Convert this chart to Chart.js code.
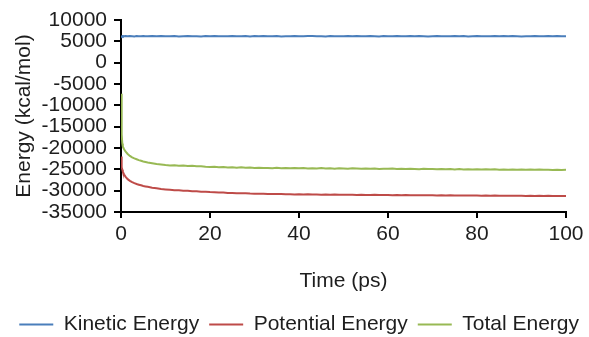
<!DOCTYPE html>
<html><head><meta charset="utf-8">
<script src="https://cdn.jsdelivr.net/npm/chart.js@4.4.1/dist/chart.umd.min.js"></script>
<style>html,body{margin:0;padding:0;background:#fff}</style>
</head><body>
<canvas id="c" width="589" height="337" style="display:block;width:589px;height:337px"></canvas>
<script>
const timePs = [0,0.1,0.2,0.3,0.4,0.5,0.7,1,1.5,2,2.5,3,3.5,4,4.5,5,5.5,6,7,8,9,10,
 11,12,13,14,15,16,17,18,19,20,21,22,23,24,25,26,27,28,29,30,
 31,32,33,34,35,36,37,38,39,40,41,42,43,44,45,46,47,48,49,50,
 51,52,53,54,55,56,57,58,59,60,61,62,63,64,65,66,67,68,69,70,
 71,72,73,74,75,76,77,78,79,80,81,82,83,84,85,86,87,88,89,90,
 91,92,93,94,95,96,97,98,99,100];

const kineticEnergy = [6100,6250,6180,6220,6150,6240,6190,6260,6170,6230,6200,6150,6240,6210,6180,6260,6200,6170,6230,6190,6250,6210,
 6180,6240,6160,6220,6270,6190,6210,6150,6230,6200,
 6260,6180,6220,6170,6240,6210,6190,6250,6160,6230,
 6200,6270,6180,6210,6240,6160,6220,6190,6250,6200,
 6170,6230,6260,6180,6210,6150,6240,6200,6220,6190,
 6250,6170,6230,6210,6180,6260,6200,6160,6240,6220,
 6190,6250,6180,6210,6230,6170,6260,6200,6150,6220,
 6240,6190,6210,6180,6250,6200,6230,6160,6220,6260,
 6190,6210,6170,6240,6200,6230,6180,6250,6210,6160,
 6220,6190,6240,6200,6170,6230,6210,6250,6180,6200];

const potentialEnergy = [-22000,-23600,-24500,-25100,-25500,-25800,-26200,-26700,-27300,-27700,-28000,-28250,-28450,-28600,-28750,-28900,-29000,-29100,-29300,-29450,-29600,-29700,
 -29790,-29880,-29930,-30010,-30040,-30130,-30160,-30230,-30270,-30340,
 -30360,-30430,-30440,-30520,-30540,-30580,-30630,-30620,-30690,-30700,
 -30740,-30720,-30780,-30760,-30810,-30790,-30840,-30820,-30870,-30850,
 -30890,-30860,-30910,-30880,-30930,-30900,-30950,-30920,-30960,-30940,
 -30980,-30950,-31000,-30970,-30990,-31020,-30980,-31030,-31000,-31010,
 -31050,-31020,-31060,-31030,-31080,-31050,-31090,-31060,-31100,-31070,
 -31110,-31080,-31130,-31100,-31120,-31150,-31110,-31160,-31130,-31140,
 -31180,-31140,-31190,-31160,-31200,-31170,-31210,-31180,-31220,-31190,
 -31230,-31200,-31240,-31210,-31250,-31220,-31260,-31230,-31270,-31250];

const totalEnergy = [-7300,-12500,-16800,-19000,-19600,-19900,-20300,-20800,-21400,-21850,-22200,-22450,-22650,-22850,-23000,-23150,-23280,-23400,-23580,-23750,-23880,-24000,
 -24080,-24020,-24150,-24110,-24230,-24180,-24300,-24250,-24380,-24460,
 -24420,-24510,-24470,-24560,-24500,-24610,-24540,-24650,-24590,-24680,
 -24620,-24710,-24660,-24740,-24640,-24720,-24680,-24770,-24700,-24760,
 -24690,-24800,-24730,-24790,-24710,-24820,-24760,-24840,-24750,-24810,
 -24860,-24770,-24830,-24890,-24800,-24870,-24790,-24900,-24840,-24880,
 -24820,-24920,-24850,-24940,-24870,-24910,-24960,-24880,-24950,-24900,
 -24980,-24920,-24990,-24940,-25010,-24950,-25030,-24970,-25020,-24960,
 -25050,-24990,-25060,-25010,-25080,-25020,-25070,-25040,-25100,-25030,
 -25090,-25050,-25120,-25060,-25110,-25080,-25140,-25090,-25130,-25110];

const seriesNames = ['Kinetic Energy','Potential Energy','Total Energy'];
const seriesColors = ['#4A7EBB','#BE4B48','#98B954'];
const xAxisTitle = 'Time (ps)';
const yAxisTitle = 'Energy (kcal/mol)';

const FONT = "'Liberation Sans', Arial, sans-serif";
const FS = 21;
const TXT = '#1e1e1e';
const toPts = arr => arr.map((v,i) => ({x: timePs[i], y: v}));
const seriesValues = [kineticEnergy, potentialEnergy, totalEnergy];

const legendHeightPlugin = {
  id: 'legendHeight',
  afterInit(chart) {
    const lg = chart.legend;
    if (!lg) return;
    const orig = lg.fit;
    lg.fit = function() { orig.call(this); this.height = 33; };
  }
};

new Chart(document.getElementById('c'), {
  type: 'line',
  data: {
    datasets: seriesValues.map((vals, i) => ({
      label: seriesNames[i],
      data: toPts(vals),
      borderColor: seriesColors[i],
      backgroundColor: seriesColors[i],
      borderWidth: 2,
      pointRadius: 0,
      tension: 0
    }))
  },
  plugins: [legendHeightPlugin],
  options: {
    responsive: false,
    animation: false,
    events: [],
    layout: { padding: { top: 20, right: 0, bottom: 0, left: 0 } },
    plugins: {
      tooltip: { enabled: false },
      legend: {
        position: 'bottom',
        align: 'end',
        labels: {
          color: TXT,
          font: { family: FONT, size: FS },
          boxWidth: 34,
          boxHeight: 2,
          padding: 10,
          generateLabels: chart => Chart.defaults.plugins.legend.labels.generateLabels(chart).map(l => Object.assign(l, {lineWidth: 0}))
        }
      }
    },
    scales: {
      x: {
        type: 'linear',
        min: 0, max: 100,
        afterFit: s => { s.height = 92; },
        ticks: { stepSize: 20, color: TXT, font: { family: FONT, size: FS }, padding: 4, maxRotation: 0, autoSkip: false },
        grid: { drawOnChartArea: false, color: '#000', lineWidth: 2, tickLength: 6 },
        border: { color: '#000', width: 2 },
        title: { display: true, text: xAxisTitle, color: TXT, font: { family: FONT, size: FS }, padding: { top: 2, bottom: 10 } }
      },
      y: {
        min: -35000, max: 10000,
        afterFit: s => { s.width = 121; },
        ticks: { stepSize: 5000, color: TXT, font: { family: FONT, size: FS }, padding: 7, autoSkip: false, callback: v => String(v) },
        grid: { drawOnChartArea: false, color: '#000', lineWidth: 2, tickLength: 7 },
        border: { color: '#000', width: 2 },
        title: { display: true, text: yAxisTitle, color: TXT, font: { family: FONT, size: FS }, padding: { top: 12, bottom: 0 } }
      },
      spacer: {
        position: 'right',
        display: true,
        afterFit: s => { s.width = 23; },
        ticks: { display: false },
        grid: { display: false },
        border: { display: false }
      }
    }
  }
});
</script>
</body></html>
